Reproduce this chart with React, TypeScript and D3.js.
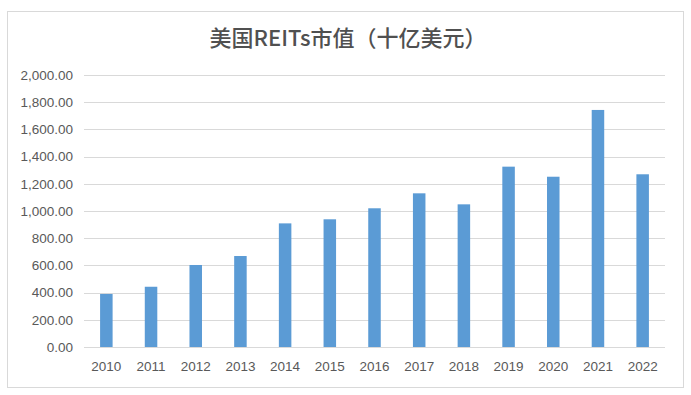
import React from "react";
import * as d3 from "d3";

const years = ["2010", "2011", "2012", "2013", "2014", "2015", "2016", "2017", "2018", "2019", "2020", "2021", "2022"];
const marketCap = [390, 443, 603, 669, 909, 939, 1020, 1130, 1049, 1326, 1252, 1743, 1270];
const yTicks = [0, 200, 400, 600, 800, 1000, 1200, 1400, 1600, 1800, 2000];
const title = "美国REITs市值（十亿美元）";

const W = 691;
const H = 395;
const margin = { top: 75, right: 26, bottom: 48, left: 84 };

export default function App() {
  const x = d3
    .scaleBand()
    .domain(years)
    .range([margin.left, W - margin.right])
    .paddingInner(0.72)
    .paddingOuter(0.36);
  const y = d3.scaleLinear().domain([0, 2000]).range([H - margin.bottom, margin.top]);
  const fmt = d3.format(",.2f");
  const labelFont = "'Liberation Sans', Arial, sans-serif";

  return (
    <svg width={W} height={H} style={{ position: "absolute", left: 0, top: 0 }}>
      <rect x={0} y={0} width={W} height={H} fill="#fff" />
      <rect x={7.5} y={11.5} width={676} height={376} fill="#fff" stroke="#d9d9d9" />
      <text
        x={348}
        y={46}
        textAnchor="middle"
        fontSize={22}
        fontWeight={500}
        fill="#505050"
        fontFamily="'Noto Sans CJK SC', sans-serif"
      >
        {title}
      </text>
      {yTicks.map((t) => (
        <g key={t}>
          <line
            x1={margin.left}
            x2={W - margin.right}
            y1={Math.round(y(t)) + 0.5}
            y2={Math.round(y(t)) + 0.5}
            stroke="#d9d9d9"
          />
          <text
            x={73}
            y={y(t)}
            dy="0.35em"
            textAnchor="end"
            fontSize={13.5}
            fill="#595959"
            fontFamily={labelFont}
          >
            {fmt(t)}
          </text>
        </g>
      ))}
      {years.map((yr, i) => (
        <rect
          key={yr}
          x={x(yr)}
          y={y(marketCap[i])}
          width={x.bandwidth()}
          height={y(0) - y(marketCap[i])}
          fill="#5b9bd5"
        />
      ))}
      {years.map((yr) => (
        <text
          key={yr}
          x={(x(yr) as number) + x.bandwidth() / 2}
          y={366}
          dy="0.35em"
          textAnchor="middle"
          fontSize={13.5}
          fill="#595959"
          fontFamily={labelFont}
        >
          {yr}
        </text>
      ))}
    </svg>
  );
}
